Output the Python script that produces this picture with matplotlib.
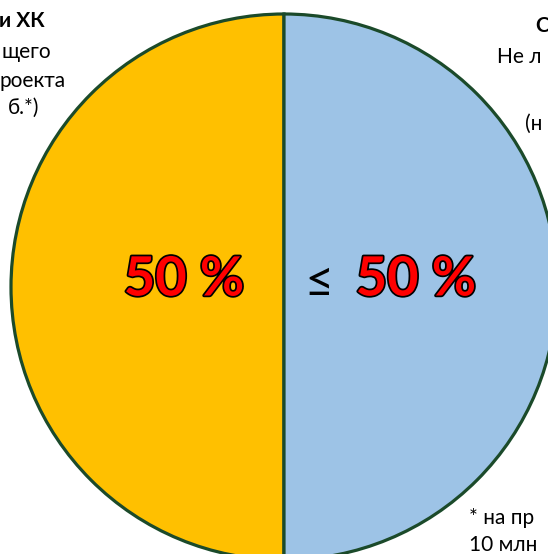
import matplotlib
matplotlib.use("Agg")
import matplotlib.pyplot as plt
import matplotlib.patheffects as pe

plt.rcParams['font.family'] = ['Lato', 'DejaVu Sans']

# data
shares = [50, 50]
colors = ['#FFC000', '#9DC3E6']
edge = '#1B4A2A'
left_label = '50 %'
right_prefix = '≤'
right_label = '50 %'

# only the parts of the captions that are visible in the cropped picture
left_lines = ['и ХК', 'щего', 'роекта', 'б.*)']
left_x = [45, 51, 66, 39]
left_y = [21, 52, 81, 108]
right_lines = ['С', 'Не л', '(н']
right_x = [535, 497, 525]
right_y = [26, 57, 124]
note_lines = ['* на пр', '10 млн']
note_y = [518, 545]

W, H = 548, 554
fig = plt.figure(figsize=(W / 100, H / 100), dpi=100)
ax = fig.add_axes([0, 0, 1, 1])

ax.pie(shares, colors=colors, startangle=90, counterclock=True,
       center=(284, 287), radius=273,
       wedgeprops=dict(edgecolor=edge, linewidth=2.3))
ax.set_xlim(0, W)
ax.set_ylim(H, 0)
ax.set_aspect('equal')
ax.axis('off')

outline = [pe.withStroke(linewidth=2.5, foreground='black')]
ax.text(184, 280, left_label, color='#FF0000', fontsize=39, fontweight='bold',
        ha='center', va='center', path_effects=outline)
ax.text(304, 283, right_prefix, color='black', fontsize=36,
        ha='left', va='center')
ax.text(476, 280, right_label, color='#FF0000', fontsize=39, fontweight='bold',
        ha='right', va='center', path_effects=outline)

for i, (s, x, y) in enumerate(zip(left_lines, left_x, left_y)):
    ax.text(x, y, s, fontsize=15, ha='right', va='center',
            fontweight='bold' if i == 0 else 'normal')

for i, (s, x, y) in enumerate(zip(right_lines, right_x, right_y)):
    ax.text(x, y, s, fontsize=15, ha='left', va='center',
            fontweight='bold' if i == 0 else 'normal')

for s, y in zip(note_lines, note_y):
    ax.text(469, y, s, fontsize=15, ha='left', va='center')

fig.savefig('out.png', dpi=100)
